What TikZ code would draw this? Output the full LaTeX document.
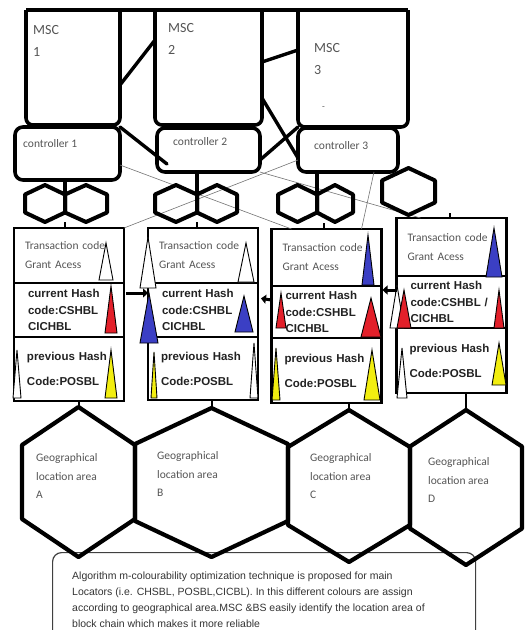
\documentclass[tikz,border=0pt]{standalone}
\usepackage{fontspec}
\setmainfont{Liberation Sans}
\newfontfamily\calfont{Carlito}
\usetikzlibrary{arrows.meta,positioning}
\definecolor{inkgray}{HTML}{555555}
\definecolor{darkink}{HTML}{222222}
\definecolor{markred}{HTML}{E3202A}
\definecolor{markblue}{HTML}{3B3FC4}
\definecolor{markyellow}{HTML}{F2EE10}
\tikzset{
  mscbox/.style={inner sep=0,outer sep=0},
  frame/.style={line width=3.6pt,rounded corners=7pt,line join=round},
  link/.style={line width=3.4pt,line cap=round},
  thinlink/.style={line width=0.6pt,black!55},
  ctrlbox/.style={draw,line width=3.6pt,rounded corners=8pt,inner sep=0,outer sep=0},
  msclabel/.style={font=\calfont\fontsize{14}{22}\selectfont,text=inkgray,align=left,inner sep=0,anchor=north west},
  ctrllabel/.style={font=\calfont\fontsize{11.5}{14}\selectfont,text=inkgray,inner sep=0,anchor=west},
  smallhex/.style={line width=4pt,line join=round},
  bighex/.style={line width=4.2pt,line join=round},
  blkpart/.style={draw,line width=2.4pt,minimum width=110pt,inner ysep=0,outer sep=0,align=left},
  txpart/.style={blkpart,inner xsep=11pt,text width=88pt,font=\calfont\fontsize{11.5}{19}\selectfont,text=inkgray},
  hashpart/.style={blkpart,inner xsep=14pt,text width=82pt,font=\bfseries\fontsize{11.5}{16.5}\selectfont,text=darkink},
  prevpart/.style={blkpart,inner xsep=13pt,text width=84pt,font=\bfseries\fontsize{11.5}{25}\selectfont,text=darkink},
  wedge/.style={draw=black,line width=0.9pt},
  linkarrow/.style={line width=3pt,-{Triangle[length=5pt,width=9pt]}},
  areatext/.style={font=\calfont\fontsize{11.5}{18.5}\selectfont,text=inkgray,align=left,inner sep=0,anchor=north west},
  notebox/.style={draw=black!75,line width=1.2pt,rounded corners=9pt,minimum width=423pt,minimum height=95pt,anchor=north west},
  notetext/.style={font=\fontsize{10.5}{16}\selectfont,text=black!80,align=left,inner sep=0,anchor=north west}
}
% #1 style, #2 name of top corner, #3 cx, #4 cy, #5 half width, #6 half height, #7 shoulder
\newcommand{\hexcell}[7][smallhex]{%
  \draw[#1] ({#3},{#4-#6}) coordinate (#2) -- ({#3+#5},{#4-#7}) -- ({#3+#5},{#4+#7})
    -- ({#3},{#4+#6}) -- ({#3-#5},{#4+#7}) -- ({#3-#5},{#4-#7}) -- cycle;}
% #1 cx, #2 base, #3 half width, #4 height, #5 colour
\newcommand{\wedgemark}[5]{%
  \filldraw[wedge,fill=#5] ({#1-#3},#2) -- (#1,{#2-#4}) -- ({#1+#3},#2) -- cycle;}

\begin{document}
\begin{tikzpicture}[x=1pt,y=-1pt]
  \useasboundingbox (0,0) rectangle (529,630);

  % note at the bottom
  \node[notebox] (note) at (52,552) {};
  \node[notetext] (notetxt) at ([xshift=20pt,yshift=-20pt]note.north west) {Algorithm m-colourability optimization technique is proposed for main\\
    Locators (i.e. CHSBL, POSBL,CICBL). In this different colours are assign\\
    according to geographical area.MSC \&BS easily identify the location area of\\
    block chain which makes it more reliable};

  % MSC servers
  \node[mscbox,minimum width=94pt,minimum height=115pt] (msc1) at (73,67.5) {};
  \node[mscbox,minimum width=107pt,minimum height=115pt] (msc2) at (208.5,67.5) {};
  \node[mscbox,minimum width=110pt,minimum height=117pt] (msc3) at (353,68.5) {};
  \foreach \m in {msc1,msc2,msc3}
    \draw[frame] (\m.north west) -- (\m.south west) -- (\m.south east) -- (\m.north east);
  \draw[frame] (msc1.north west) -- (msc3.north east);
  \node[msclabel] (msc1txt) at (33,25.5) {MSC\\1};
  \node[msclabel] (msc2txt) at (168,23.5) {MSC\\2};
  \node[msclabel] (msc3txt) at (314,43.5) {MSC\\3};
  \node[msclabel,font=\calfont\small] (msc3dot) at (322,106) {-};

  % controllers
  \node[ctrlbox,minimum width=105pt,minimum height=53pt] (ctrl1) at (67.5,153.5) {};
  \node[ctrlbox,minimum width=103pt,minimum height=44pt] (ctrl2) at (208.5,150) {};
  \node[ctrlbox,minimum width=100pt,minimum height=44pt] (ctrl3) at (348,150) {};
  \node[ctrllabel] (ctrl1txt) at ([xshift=8pt,yshift=9.5pt]ctrl1.west) {controller 1};
  \node[ctrllabel] (ctrl2txt) at ([xshift=16pt,yshift=8pt]ctrl2.west) {controller 2};
  \node[ctrllabel] (ctrl3txt) at ([xshift=16pt,yshift=4pt]ctrl3.west) {controller 3};

  % thick links
  \draw[link] ([yshift=-17.5pt]msc1.east) -- ([yshift=27.5pt]msc2.west);
  \draw[link] ([yshift=5.5pt]msc2.east) -- ([yshift=18.5pt]msc3.west);
  \draw[link] ([yshift=-30.5pt]msc2.east) -- ([yshift=-8pt]ctrl3.west);
  \draw[link] (msc3.south west) -- ([yshift=-10pt]ctrl2.east);
  \draw[link] (ctrl1.north east) -- ([xshift=10pt,yshift=8pt]ctrl2.south west);

  % blocks
  \node[txpart,minimum height=55pt] (blk1a) at (69,255.5) {Transaction code\\Grant Acess};
  \node[hashpart,minimum height=54pt,below=0pt of blk1a] (blk1b) {current Hash\\code:CSHBL\\CICHBL};
  \node[prevpart,minimum height=64pt,below=0pt of blk1b] (blk1c) {previous Hash\\Code:POSBL};

  \node[txpart,minimum height=55pt] (blk2a) at (203,255.5) {Transaction code\\Grant Acess};
  \node[hashpart,minimum height=54pt,below=0pt of blk2a] (blk2b) {current Hash\\code:CSHBL\\CICHBL};
  \node[prevpart,minimum height=63pt,below=0pt of blk2b] (blk2c) {previous Hash\\Code:POSBL};

  \node[txpart,minimum height=57pt] (blk3a) at (326.5,257.5) {Transaction code\\Grant Acess};
  \node[hashpart,minimum height=52pt,below=0pt of blk3a] (blk3b) {current Hash\\code:CSHBL\\CICHBL};
  \node[prevpart,minimum height=65pt,below=0pt of blk3b] (blk3c) {previous Hash\\Code:POSBL};

  \node[txpart,minimum height=58pt] (blk4a) at (451.5,247) {Transaction code\\Grant Acess};
  \node[hashpart,minimum height=52pt,below=0pt of blk4a] (blk4b) {current Hash\\code:CSHBL /\\CICHBL};
  \node[prevpart,minimum height=65pt,below=0pt of blk4b] (blk4c) {previous Hash\\Code:POSBL};

  % thin links
  \draw[thinlink] ([yshift=-11.5pt]ctrl1.east) -- ([xshift=20pt]blk3a.north west);
  \draw[thinlink] (blk1a.north east) -- ([yshift=12pt]ctrl3.south west);
  \draw[thinlink] (ctrl2.south east) -- ([xshift=24pt]blk4a.north west);
  \draw[thinlink] ([xshift=-24pt]ctrl3.south east) -- ([xshift=-20pt]blk3a.north east);

  % small cells
  \hexcell{c1}{45}{203.5}{20}{18.5}{9}
  \hexcell{c2}{86}{203.5}{21}{18.5}{9}
  \hexcell{c3}{176}{203.5}{21}{18.5}{9}
  \hexcell{c4}{217}{203.5}{20}{18.5}{9}
  \hexcell{c5}{297.5}{203.5}{19.5}{18.5}{9}
  \hexcell{c6}{335}{203.5}{18}{18.5}{9}
  \hexcell{c7}{408.5}{191.5}{26.5}{23.5}{11}
  \coordinate (j1) at (65,212.5);
  \coordinate (j2) at (197,212.5);
  \coordinate (j3) at (317,212.5);
  \draw[smallhex] (j1) -- (j1 |- ctrl1.south);
  \draw[smallhex] (j2) -- (j2 |- ctrl2.south);
  \draw[smallhex] (j3) -- (j3 |- ctrl3.south);
  \draw[line width=2pt] (j1 |- blk1a.north) -- ++(0,-6);
  \draw[line width=2pt] (j2 |- blk2a.north) -- ++(0,-6);
  \draw[line width=2pt] ([xshift=7pt]j3 |- blk3a.north) -- ++(0,-6);
  \draw[line width=2pt] ([xshift=-2pt]blk4a.north) -- ++(0,-5);

  % colour marks
  \wedgemark{106}{280}{7}{37}{white}
  \wedgemark{111}{333}{6}{47}{markred}
  \wedgemark{111}{398}{6}{48}{markyellow}
  \wedgemark{17}{398}{4}{48}{white}
  \wedgemark{148}{288}{8}{51}{white}
  \wedgemark{149}{343}{9}{50}{markblue}
  \wedgemark{246}{282}{8}{39}{white}
  \wedgemark{244}{332}{9}{36}{markblue}
  \wedgemark{154}{398}{3}{46}{markyellow}
  \wedgemark{254}{398}{4}{55}{white}
  \wedgemark{368}{285}{6}{50}{markblue}
  \wedgemark{281}{328}{5}{35}{markred}
  \wedgemark{371}{337}{10}{39}{markred}
  \wedgemark{276}{400}{4}{52}{markyellow}
  \wedgemark{372}{400}{8}{50}{markyellow}
  \wedgemark{494}{277}{8}{49}{markblue}
  \wedgemark{397}{328}{7}{43}{white}
  \wedgemark{404}{328}{7}{38}{markred}
  \wedgemark{499}{328}{5}{38}{markred}
  \wedgemark{499}{385}{7}{42}{markyellow}
  \wedgemark{402}{398}{5}{50}{white}

  % block links
  \draw[linkarrow,shorten <=2pt] ([yshift=17pt]blk1b.east) -- ([yshift=17pt]blk2b.west);
  \draw[linkarrow,shorten >=3pt] ([yshift=12pt]blk3b.west) -- ([yshift=12pt]blk2b.east);
  \draw[linkarrow,shorten >=1pt] ([yshift=12pt]blk4b.west) -- ([yshift=22pt]blk3b.east);

  % geographical areas
  \hexcell[bighex]{areaA}{78.5}{482}{56.5}{75}{37}
  \hexcell[bighex]{areaB}{211.5}{482.5}{76.5}{74.5}{38.5}
  \hexcell[bighex]{areaC}{349}{486}{61}{76}{39}
  \hexcell[bighex]{areaD}{466}{487.5}{56}{77.5}{41}
  \draw[line width=2pt] (areaA |- blk1c.south) -- (areaA);
  \draw[line width=2pt] (areaB |- blk2c.south) -- (areaB);
  \draw[line width=2pt] (areaC |- blk3c.south) -- (areaC);
  \draw[line width=2pt] (areaD |- blk4c.south) -- (areaD);
  \node[areatext] (areaAtxt) at (36,453.5) {Geographical\\location area\\A};
  \node[areatext] (areaBtxt) at (157,451.5) {Geographical\\location area\\B};
  \node[areatext] (areaCtxt) at (310,453.5) {Geographical\\location area\\C};
  \node[areatext] (areaDtxt) at (428,457.5) {Geographical\\location area\\D};
\end{tikzpicture}
\end{document}
